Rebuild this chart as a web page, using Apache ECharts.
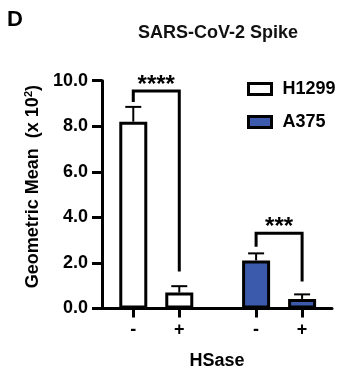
<!DOCTYPE html>
<html>
<head>
<meta charset="utf-8">
<script src="https://cdn.jsdelivr.net/npm/echarts@6/dist/echarts.min.js"></script>
<style>
  html, body { margin: 0; padding: 0; background: #fff; }
  #chart { width: 353px; height: 382px; }
</style>
</head>
<body>
<div id="chart"></div>
<script>
  // data (units: x 10^2)
  const conditions = ['-', '+'];
  const groups = ['H1299', 'A375'];
  const h1299Mean = [8.2, 0.7];
  const h1299Err = [0.65, 0.28];
  const a375Mean = [2.11, 0.42];
  const a375Err = [0.31, 0.2];
  const sigLabels = ['****', '***'];
  const bracketTop = [9.55, 3.3];
  const bracketLeftEnd = [9.06, 2.71];
  const bracketRightEnd = [1.62, 1.18];
  const yTicks = [0, 2, 4, 6, 8, 10];

  const font = "'Liberation Sans', Arial, sans-serif";
  const blue = '#3b5aab';

  // x layout: each group starts at groupStart, conditions one unit apart
  const groupStart = [0.68, 3.35];
  const xOf = (g, c) => groupStart[g] + c;

  const means = [h1299Mean, a375Mean];
  const errs = [h1299Err, a375Err];

  const xTickValues = [];
  const xTickText = {};
  groups.forEach((_, g) => {
    conditions.forEach((cond, c) => {
      const x = xOf(g, c);
      xTickValues.push(x);
      xTickText[x.toFixed(2)] = cond;
    });
  });

  const errData = [];
  groups.forEach((_, g) => {
    conditions.forEach((_, c) => {
      errData.push([xOf(g, c), means[g][c], errs[g][c]]);
    });
  });

  const bracketData = groups.map((_, g) => [
    xOf(g, 0), xOf(g, 1), bracketTop[g], bracketLeftEnd[g], bracketRightEnd[g]
  ]);

  const chart = echarts.init(document.getElementById('chart'));

  const option = {
    animation: false,
    backgroundColor: '#fff',
    textStyle: { fontFamily: font },
    title: [
      {
        text: 'D',
        left: 7,
        top: 9,
        padding: 0,
        textStyle: { fontSize: 22, fontWeight: 'bold', color: '#000', fontFamily: font },
      },
      {
        text: 'SARS-CoV-2 Spike',
        left: 138,
        top: 24,
        padding: 0,
        textStyle: { fontSize: 18, fontWeight: 'bold', color: '#111', fontFamily: font },
      },
    ],
    legend: {
      data: groups,
      orient: 'vertical',
      left: 242,
      top: 74,
      itemWidth: 23,
      itemHeight: 11,
      itemGap: 13,
      icon: 'rect',
      itemStyle: { borderColor: '#000', borderWidth: 3 },
      textStyle: {
        fontSize: 18,
        fontWeight: 'bold',
        color: '#000',
        fontFamily: font,
        lineHeight: 20,
        padding: [0, 0, 0, 6],
      },
    },
    grid: {
      left: 102,
      right: 21,
      top: 80.7,
      bottom: 73.5,
    },
    xAxis: {
      type: 'value',
      min: 0,
      max: 5,
      name: 'HSase',
      nameLocation: 'middle',
      nameGap: 44,
      nameTextStyle: { fontSize: 18, fontWeight: 'bold', color: '#000', fontFamily: font },
      axisLine: { show: true, onZero: false, lineStyle: { color: '#000', width: 3 } },
      axisTick: {
        show: true,
        customValues: xTickValues,
        length: 9,
        lineStyle: { color: '#000', width: 3 },
      },
      axisLabel: {
        customValues: xTickValues,
        formatter: (v) => xTickText[v.toFixed(2)] || '',
        margin: 13,
        fontSize: 18,
        fontWeight: 'bold',
        color: '#000',
        fontFamily: font,
      },
      splitLine: { show: false },
    },
    yAxis: {
      type: 'value',
      min: yTicks[0],
      max: yTicks[yTicks.length - 1],
      interval: 2,
      name: 'Geometric Mean  (x 10{sup|2})',
      nameLocation: 'middle',
      nameGap: 56,
      nameTextStyle: {
        fontSize: 18,
        fontWeight: 'bold',
        color: '#000',
        fontFamily: font,
        padding: [0, 0, 0, 16],
        rich: {
          sup: { fontSize: 11, fontWeight: 'bold', color: '#000', verticalAlign: 'top', padding: [0, 0, 8, 0] },
        },
      },
      axisLine: { show: true, lineStyle: { color: '#000', width: 3 } },
      axisTick: { show: true, length: 10, lineStyle: { color: '#000', width: 3 } },
      axisLabel: {
        formatter: (v) => v.toFixed(1),
        margin: 14,
        fontSize: 18,
        fontWeight: 'bold',
        color: '#000',
        fontFamily: font,
      },
      splitLine: { show: false },
    },
    series: [
      {
        name: 'H1299',
        type: 'bar',
        barWidth: 28,
        barGap: '-100%',
        data: conditions.map((_, c) => [xOf(0, c), h1299Mean[c]]),
        itemStyle: { color: '#fff', borderColor: '#000', borderWidth: 3 },
        z: 2,
      },
      {
        name: 'A375',
        type: 'bar',
        barWidth: 28,
        barGap: '-100%',
        data: conditions.map((_, c) => [xOf(1, c), a375Mean[c]]),
        itemStyle: { color: blue, borderColor: '#000', borderWidth: 3 },
        z: 2,
      },
      {
        name: 'error',
        type: 'custom',
        z: 3,
        data: errData,
        encode: { x: 0, y: 1 },
        renderItem: (params, api) => {
          const x = api.value(0);
          const m = api.value(1);
          const e = api.value(2);
          const p0 = api.coord([x, m]);
          const p1 = api.coord([x, m + e]);
          const style = { stroke: '#000', lineWidth: 2 };
          return {
            type: 'group',
            children: [
              { type: 'line', shape: { x1: p0[0], y1: p0[1], x2: p1[0], y2: p1[1] }, style },
              { type: 'line', shape: { x1: p1[0] - 8, y1: p1[1], x2: p1[0] + 8, y2: p1[1] }, style },
            ],
          };
        },
      },
      {
        name: 'significance',
        type: 'custom',
        z: 3,
        data: bracketData,
        encode: { x: [0, 1], y: [2, 3, 4] },
        renderItem: (params, api) => {
          const xl = api.value(0);
          const xr = api.value(1);
          const top = api.value(2);
          const pl = api.coord([xl, api.value(3)]);
          const pr = api.coord([xr, api.value(4)]);
          const tl = api.coord([xl, top]);
          const tr = api.coord([xr, top]);
          return {
            type: 'group',
            children: [
              {
                type: 'polyline',
                shape: { points: [pl, tl, tr, pr] },
                style: { stroke: '#000', lineWidth: 3, fill: null },
              },
              {
                type: 'text',
                style: {
                  x: (tl[0] + tr[0]) / 2,
                  y: tl[1] - 6,
                  text: sigLabels[params.dataIndex],
                  fontSize: 24,
                  fontWeight: 'bold',
                  fontFamily: font,
                  fill: '#000',
                  align: 'center',
                  verticalAlign: 'middle',
                },
              },
            ],
          };
        },
      },
    ],
  };

  chart.setOption(option);
</script>
</body>
</html>
